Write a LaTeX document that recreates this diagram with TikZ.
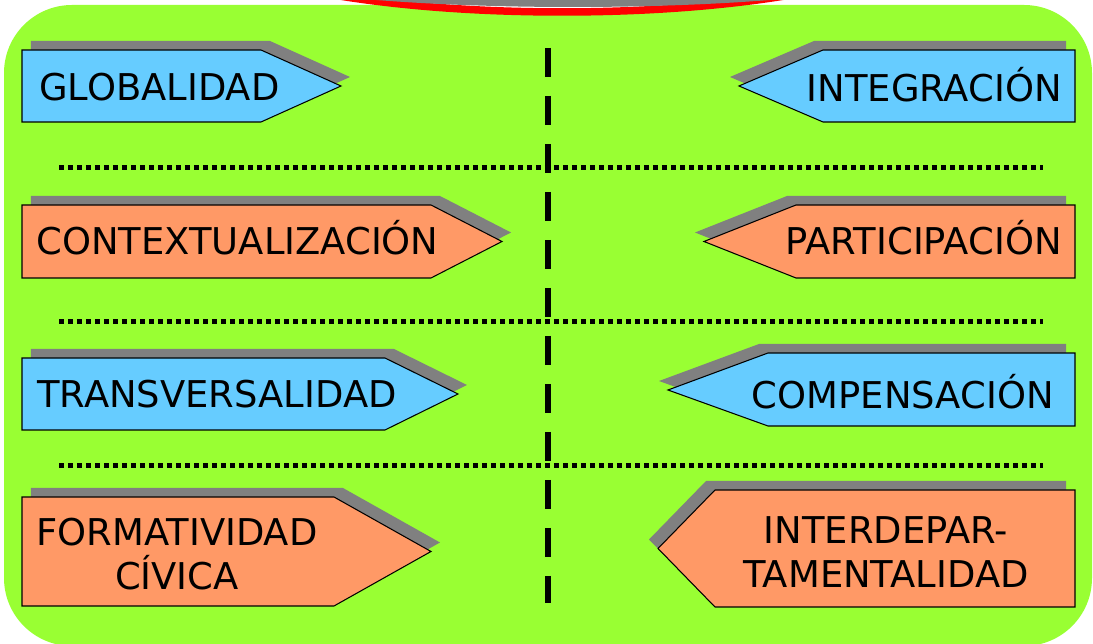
\documentclass[tikz,border=0pt]{standalone}
\usepackage{fontspec}
\setmainfont{DejaVu Sans}
\usetikzlibrary{shadows}
\definecolor{greenbg}{HTML}{99FF33}
\definecolor{skyblue}{HTML}{66CCFF}
\definecolor{salmon}{HTML}{FF9966}
\definecolor{shadowgray}{HTML}{808080}
\definecolor{arcred}{HTML}{FF0000}

\begin{document}
\begin{tikzpicture}[x=0.02cm, y=-0.02cm]
\tikzstyle{sign}=[draw=black, line width=0.6pt]
\tikzstyle{rshadow}=[general shadow={fill=shadowgray, shadow xshift=0.18cm, shadow yshift=0.18cm}]
\tikzstyle{lshadow}=[general shadow={fill=shadowgray, shadow xshift=-0.18cm, shadow yshift=0.18cm}]
\tikzstyle{signtext}=[inner sep=0pt, font=\fontsize{21}{25}\selectfont]
\tikzstyle{rowline}=[line width=0.1cm, dash pattern=on 0.1cm off 0.08cm]
\tikzstyle{midline}=[line width=0.13cm, dash pattern=on 0.58cm off 0.38cm]
\useasboundingbox (0,0) rectangle (1093,644);

\begin{scope}
\clip (0,0) rectangle (1093,644);
\fill[greenbg, rounded corners=1.36cm] (4,5) rectangle (1092,646);
% title ellipse, cut by the top edge
\filldraw[fill=white, draw=arcred, line width=0.15cm] (562,-70) ellipse [x radius=375, y radius=82];
\fill[shadowgray] (573,-30) ellipse [x radius=336, y radius=37];
\fill[white] (573,-34) ellipse [x radius=300, y radius=34];
\end{scope}

% separators
\draw[midline] (548,48) -- (548,603);
\draw[rowline] (59,168) -- (1043,168);
\draw[rowline] (59,322) -- (1043,322);
\draw[rowline] (59,466) -- (1043,466);

% left column
\filldraw[sign, rshadow, fill=skyblue] (22,50) -- (261,50) -- (341,86) -- (261,122) -- (22,122) -- cycle;
\filldraw[sign, rshadow, fill=salmon] (22,205) -- (431,205) -- (502,241.5) -- (431,278) -- (22,278) -- cycle;
\filldraw[sign, rshadow, fill=skyblue] (22,358) -- (385,358) -- (458,394) -- (385,430) -- (22,430) -- cycle;
\filldraw[sign, rshadow, fill=salmon] (22,497) -- (334,497) -- (431,551.5) -- (334,606) -- (22,606) -- cycle;

% right column
\filldraw[sign, lshadow, fill=skyblue] (1075,50) -- (823,50) -- (739,86) -- (823,122) -- (1075,122) -- cycle;
\filldraw[sign, lshadow, fill=salmon] (1075,205) -- (796,205) -- (704,241.5) -- (796,278) -- (1075,278) -- cycle;
\filldraw[sign, lshadow, fill=skyblue] (1075,353) -- (768,353) -- (668,390) -- (768,426) -- (1075,426) -- cycle;
\filldraw[sign, lshadow, fill=salmon] (1075,490) -- (715,490) -- (658,548.5) -- (715,607) -- (1075,607) -- cycle;

\node[signtext, anchor=base west] (globalidad) at (39,101) {GLOBALIDAD};
\node[signtext, anchor=base west] (contextualizacion) at (36,255) {CONTEXTUALIZACIÓN};
\node[signtext, anchor=base west] (transversalidad) at (37,408) {TRANSVERSALIDAD};
\node[signtext, align=center] (formatividad) at (177,554) {FORMATIVIDAD\\CÍVICA};
\node[signtext, anchor=base east] (integracion) at (1062,102) {INTEGRACIÓN};
\node[signtext, anchor=base east] (participacion) at (1062,255) {PARTICIPACIÓN};
\node[signtext, anchor=base east] (compensacion) at (1054,409) {COMPENSACIÓN};
\node[signtext, align=center] (interdepartamentalidad) at (886,552) {INTERDEPAR-\\TAMENTALIDAD};
\end{tikzpicture}
\end{document}
